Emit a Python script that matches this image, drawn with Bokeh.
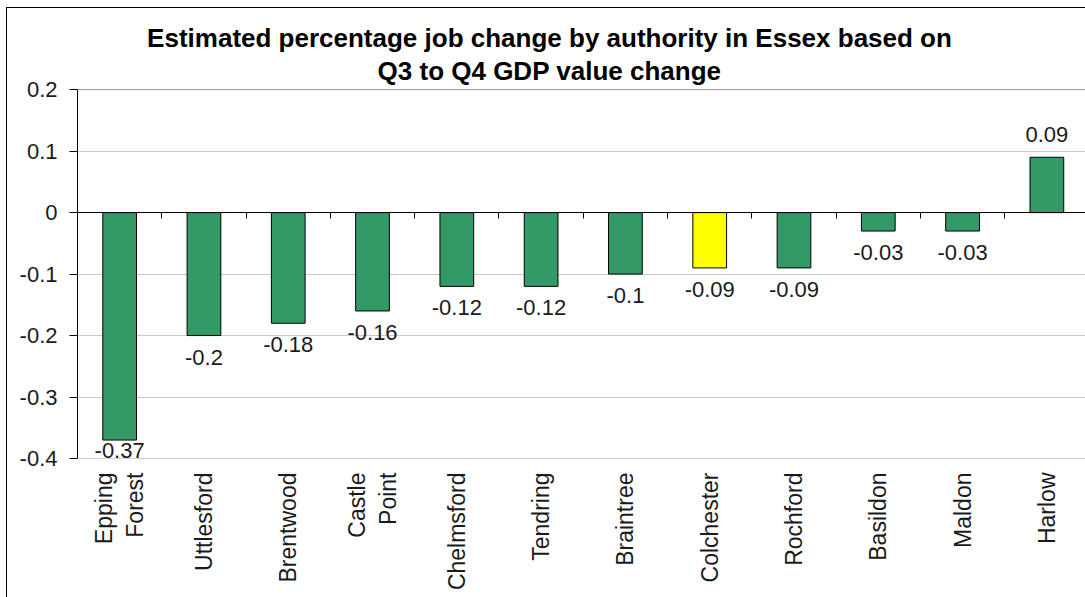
from math import pi
from bokeh.plotting import figure
from bokeh.models import Range1d, FixedTicker, LinearAxis, Span, ColumnDataSource, LabelSet, Label
from bokeh.embed import file_html
from bokeh.resources import INLINE
from bokeh.core.properties import value

# ---- data ----
authorities = ["Epping\nForest", "Uttlesford", "Brentwood", "Castle\nPoint", "Chelmsford",
               "Tendring", "Braintree", "Colchester", "Rochford", "Basildon", "Maldon", "Harlow"]
job_change = [-0.37, -0.2, -0.18, -0.16, -0.12, -0.12, -0.1, -0.09, -0.09, -0.03, -0.03, 0.09]
highlight = "Colchester"
y_ticks = [-0.4, -0.3, -0.2, -0.1, 0, 0.1, 0.2]
y_tick_labels = ["-0.4", "-0.3", "-0.2", "-0.1", "0", "0.1", "0.2"]
title_lines = ["Estimated percentage job change by authority in Essex based on",
               "Q3 to Q4 GDP value change"]

FONT = "Liberation Sans"
GREEN = "#339966"
YELLOW = "#FFFF00"
TXT = "#1a1a1a"
TITLE_ROOM = 0.132   # extra headroom (in axis units) above the top tick for the title

n = len(authorities)
xs = list(range(n))
colors = [YELLOW if a == highlight else GREEN for a in authorities]

p = figure(width=1079, height=590, output_backend="svg", toolbar_location=None,
           x_range=Range1d(-0.5, n - 0.53),
           y_range=Range1d(y_ticks[0], y_ticks[-1] + TITLE_ROOM),
           min_border_left=70, min_border_right=0, min_border_top=0, min_border_bottom=140)
p.styles = {"margin-left": "6px", "margin-top": "7px",
            "border-left": "1px solid black", "border-top": "1px solid black",
            "box-sizing": "border-box"}
p.title = None

# title (two centred lines; screen units measured from the plot area's bottom-left)
for line, ys in zip(title_lines, (421, 388)):
    p.add_layout(Label(x=472, y=ys, x_units="screen", y_units="screen", text=line,
                       text_align="center", text_baseline="alphabetic", text_font=FONT,
                       text_font_size="26px", text_font_style="bold", text_color="black"))

p.outline_line_color = None
p.xgrid.grid_line_color = None
p.ygrid.grid_line_color = "#c8c8c8"
p.ygrid.ticker = FixedTicker(ticks=y_ticks)

# y axis
ya = p.yaxis[0]
ya.ticker = FixedTicker(ticks=y_ticks)
ya.bounds = (y_ticks[0], y_ticks[-1])
ya.major_label_overrides = {t: l for t, l in zip(y_ticks, y_tick_labels)}
ya.major_label_text_font = FONT
ya.major_label_text_font_size = "22px"
ya.major_label_text_color = TXT
ya.axis_line_color = "black"
ya.major_tick_line_color = "black"
ya.major_tick_out = 8
ya.major_tick_in = 0
ya.minor_tick_line_color = None
ya.major_label_standoff = 12

# x axis (labels at bottom)
xa = p.xaxis[0]
xa.ticker = FixedTicker(ticks=xs)
xa.major_label_overrides = {i: a for i, a in zip(xs, authorities)}
xa.major_label_orientation = pi / 2
xa.major_label_text_font = FONT
xa.major_label_text_font_size = "23px"
xa.major_label_text_color = TXT
xa.major_label_text_line_height = 1.2
xa.axis_line_color = None
xa.major_tick_line_color = None
xa.minor_tick_line_color = None
xa.major_label_standoff = 8

# darker plot-area edges
for yv in (y_ticks[0], y_ticks[-1]):
    p.add_layout(Span(location=yv, dimension="width", line_color="#a0a0a0", line_width=1))

# bars
src = ColumnDataSource(dict(x=xs, top=job_change, color=colors))
p.vbar(x="x", top="top", bottom=0, width=0.4, source=src,
       fill_color="color", line_color="black", line_width=1)

# zero axis with ticks between categories (no labels)
boundaries = [i + 0.5 for i in xs[:-1]]
za = LinearAxis(fixed_location=0, ticker=FixedTicker(ticks=boundaries))
za.axis_line_color = "black"
za.major_tick_line_color = "black"
za.major_tick_out = 6
za.major_tick_in = 0
za.minor_tick_line_color = None
za.major_label_overrides = {b: "" for b in boundaries}
za.major_label_text_font_size = "1px"
za.major_label_standoff = 0
p.add_layout(za, "below")

# data labels (kept inside the plot area near its bottom edge, as Excel does)
ymin = y_ticks[0]
neg_x = [x for x, v in zip(xs, job_change) if v < 0]
neg_v = [v for v in job_change if v < 0]
neg = ColumnDataSource(dict(x=neg_x, y=neg_v, t=[str(v) for v in neg_v],
                            off=[-3 if v - ymin < 0.05 else -14 for v in neg_v]))
pos_v = [v for v in job_change if v >= 0]
pos = ColumnDataSource(dict(x=[x for x, v in zip(xs, job_change) if v >= 0], y=pos_v,
                            t=[str(v) for v in pos_v]))
p.add_layout(LabelSet(x="x", y="y", text="t", source=neg, text_align="center",
                      text_baseline="top", y_offset="off", text_font=value(FONT),
                      text_font_size=value("22px"), text_color=value(TXT)))
p.add_layout(LabelSet(x="x", y="y", text="t", source=pos, text_align="center",
                      text_baseline="bottom", y_offset=15, text_font=value(FONT),
                      text_font_size=value("22px"), text_color=value(TXT)))

open("out.html", "w").write(file_html(p, INLINE))
